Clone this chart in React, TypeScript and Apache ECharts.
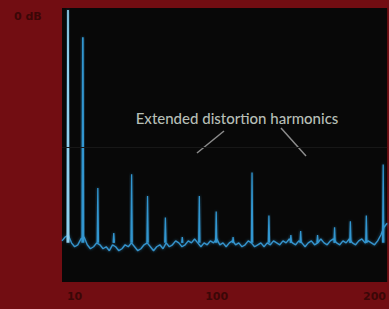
import React, { useEffect, useRef } from "react";
import * as echarts from "echarts";

// Harmonic spikes: frequency position and peak level (dB)
const spikeFreqs = [5.8, 15.2, 24.7, 34.8, 46.1, 56.2, 67.5, 78.2, 89, 99.7, 110.4, 122.4, 133.1, 147, 153.2, 163.9, 174.7, 184.7, 194.8, 205.5];
const spikeLevels = [-1, -15, -92, -115, -85, -96, -107, -117, -96, -104, -117, -84, -106, -116, -114, -116, -112, -109, -106, -80];
const spikeBase = -120;

// Noise floor, sampled every 2 units from 2 to 208
const noiseLevels = [
  -119, -117, -116, -120, -122, -121, -118, -117, -121, -123,
  -122, -120, -121, -123, -122, -124, -121, -122, -124, -123,
  -121, -122, -120, -122, -124, -123, -121, -120, -122, -124,
  -122, -121, -123, -120, -122, -121, -119, -120, -122, -121,
  -119, -120, -118, -120, -122, -120, -121, -119, -120, -118,
  -121, -120, -122, -120, -119, -121, -120, -122, -121, -119,
  -120, -122, -121, -120, -122, -120, -121, -119, -120, -121,
  -119, -120, -118, -120, -121, -119, -120, -122, -120, -119,
  -121, -120, -118, -120, -121, -119, -118, -120, -121, -119,
  -120, -118, -120, -121, -119, -118, -120, -119, -120, -121,
  -119, -116, -112, -110
];

const xTickValues = [10, 100, 200];
const annotation = "Extended distortion harmonics";
const yLabel = "0 dB";

export default function App() {
  const ref = useRef<HTMLDivElement>(null);
  useEffect(() => {
    const chart = echarts.init(ref.current!, null, { renderer: "svg" });
    const noiseData = noiseLevels.map((v, i) => [2 + 2 * i, v]);
    const spikeSeries = spikeFreqs.map((f, i) => ({
      type: "line",
      data: [
        [f - 0.4, spikeBase],
        [f, spikeLevels[i]],
        [f + 0.4, spikeBase],
      ],
      symbol: "none",
      lineStyle: {
        color: i === 0 ? "#8fcfee" : "#3196d0",
        width: i < 2 ? 1.7 : 1.3,
        shadowBlur: 3,
        shadowColor: "rgba(50,150,210,0.6)",
      },
      z: 3,
    }));
    chart.setOption({
      animation: false,
      backgroundColor: "transparent",
      grid: {
        left: 62,
        right: 0,
        top: 8,
        bottom: 27,
        show: true,
        backgroundColor: "#080808",
        borderWidth: 0,
      },
      xAxis: {
        type: "value",
        min: 2,
        max: 208,
        axisLine: { show: false },
        axisTick: { show: false },
        splitLine: { show: false },
        axisLabel: {
          customValues: xTickValues,
          color: "#3b0707",
          fontSize: 11,
          fontWeight: "bold",
          margin: 9,
          fontFamily: "DejaVu Sans",
        },
      },
      yAxis: {
        type: "value",
        min: -140,
        max: 0,
        axisLine: { show: false },
        axisTick: { show: false },
        axisLabel: { show: false },
        splitLine: { show: false },
      },
      series: [
        {
          type: "line",
          data: noiseData,
          symbol: "none",
          lineStyle: {
            color: "#3493cc",
            width: 1.4,
            shadowBlur: 3,
            shadowColor: "rgba(50,150,210,0.6)",
          },
          markLine: {
            silent: true,
            symbol: "none",
            label: { show: false },
            lineStyle: { color: "#171717", width: 1, type: "solid" },
            data: [{ yAxis: -71 }],
          },
          z: 2,
        },
        ...spikeSeries,
      ],
      graphic: [
        {
          type: "text",
          left: 14,
          top: 11,
          style: {
            text: yLabel,
            fill: "#3b0707",
            font: "bold 11px 'DejaVu Sans'",
          },
        },
        {
          type: "text",
          x: 237,
          y: 118,
          style: {
            text: annotation,
            fill: "#b6beb6",
            font: "500 15px Lato",
            align: "center",
            verticalAlign: "middle",
          },
        },
        {
          type: "line",
          shape: { x1: 224, y1: 131, x2: 197, y2: 153 },
          style: { stroke: "#8c8c8c", lineWidth: 1.5 },
        },
        {
          type: "line",
          shape: { x1: 281, y1: 128, x2: 306, y2: 156 },
          style: { stroke: "#8c8c8c", lineWidth: 1.5 },
        },
      ],
    });
    return () => chart.dispose();
  }, []);
  return (
    <div
      style={{
        position: "fixed",
        left: 0,
        top: 0,
        width: 389,
        height: 309,
        background: "#720d12",
      }}
    >
      <div ref={ref} style={{ width: 389, height: 309 }} />
    </div>
  );
}
